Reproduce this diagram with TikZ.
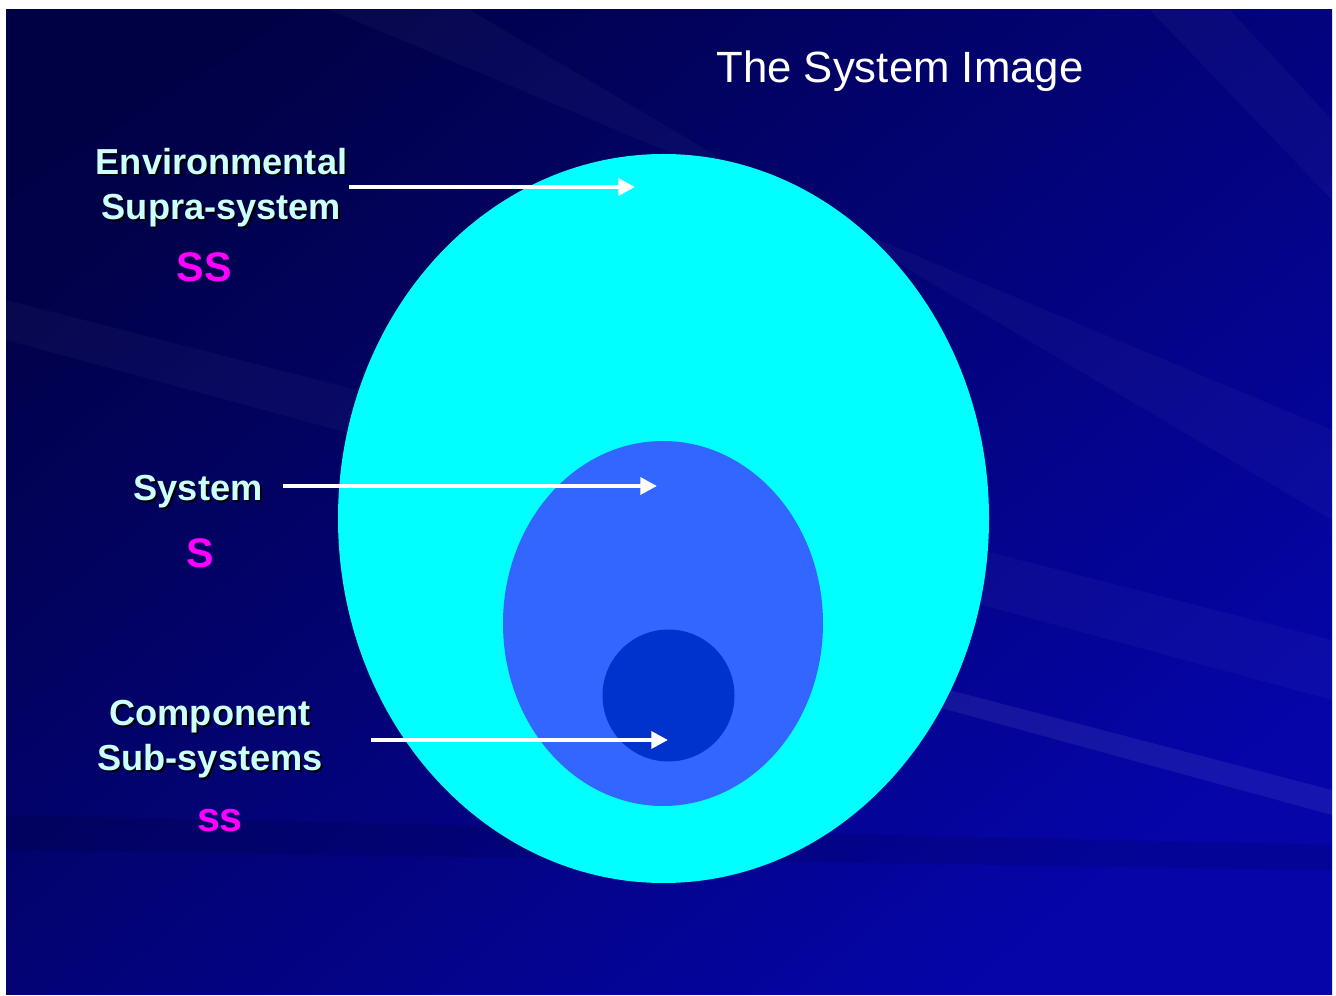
\documentclass[tikz,border=0pt]{standalone}
\usepackage{fontspec}
\setmainfont{Liberation Sans}
\usetikzlibrary{arrows.meta}
\definecolor{bgdark}{HTML}{01014A}
\definecolor{bglight}{HTML}{0505A8}
\definecolor{outer}{HTML}{00FFFF}
\definecolor{middle}{HTML}{3366FF}
\definecolor{inner}{HTML}{0033CC}
\definecolor{labeltxt}{HTML}{CCFFFF}
\definecolor{mag}{HTML}{FF00FF}
\tikzset{
  lab/.style={font=\bfseries\fontsize{20.6}{25.5}\selectfont, text=labeltxt, align=center, inner sep=0pt},
  labshadow/.style={font=\bfseries\fontsize{20.6}{25.5}\selectfont, text=black, align=center, inner sep=0pt},
  sym/.style={font=\bfseries\fontsize{23.5}{26}\selectfont, text=mag, inner sep=0pt},
  pointer/.style={draw=white, line width=2.4pt, -{Triangle[length=9.5pt,width=9.5pt]}},
  ray/.style={fill=white, fill opacity=0.03}
}
\begin{document}
\begin{tikzpicture}[x=0.02cm,y=-0.02cm]
\useasboundingbox (0,0) rectangle (1336,996);
\fill[white] (0,0) rectangle (1336,996);
\shade[top color=bgdark, bottom color=bglight, shading angle=40] (6,10) rectangle (1332,994);
% faint rays
\begin{scope}
\clip (6,10) rectangle (1332,994);
\fill[ray] (330,10) -- (470,10) -- (1332,520) -- (1332,430) -- cycle;
\fill[ray] (1150,10) -- (1230,10) -- (1332,120) -- (1332,200) -- cycle;
\fill[ray] (6,300) -- (6,340) -- (1332,700) -- (1332,640) -- cycle;
\fill[white, fill opacity=0.07] (930,685) -- (1332,790) -- (1332,815) -- (930,705) -- cycle;
\fill[black, fill opacity=0.10] (6,815) -- (1332,845) -- (1332,870) -- (6,850) -- cycle;
\fill[black, fill opacity=0.08] (6,10) -- (300,10) -- (6,200) -- cycle;
\end{scope}
% ellipses
\fill[outer] (663.5,518.5) ellipse [x radius=325.5, y radius=364.5];
\fill[middle] (663,623.5) ellipse [x radius=160, y radius=182.5];
\fill[inner] (668.5,695.5) circle [radius=66];
\coordinate (tss) at (635,187);
\coordinate (ts) at (657,486);
\coordinate (tcs) at (668,740);
% title
\node[font=\fontsize{24.9}{28}\selectfont, text=white, inner sep=0pt] (title) at (900,71) {The System Image};
% labels with shadow
\node[labshadow] at (223.5,190) {Environmental\\Supra-system};
\node[lab] (env) at (221.5,188) {Environmental\\Supra-system};
\node[labshadow] at (200,494) {System};
\node[lab] (sys) at (198,492) {System};
\node[labshadow] at (212,741) {Component\\Sub-systems};
\node[lab] (comp) at (210,739) {Component\\Sub-systems};
\node[sym] (SS) at (204,267) {SS};
\node[sym] (S) at (200,553) {S};
\node[sym] (ss) at (220,821) {ss};
% arrows
\draw[pointer] (349,187) coordinate (a1) (a1) -- (tss);
\draw[pointer] (283,486) coordinate (a2) (a2) -- (ts);
\draw[pointer] (371,740) coordinate (a3) (a3) -- (tcs);
\end{tikzpicture}
\end{document}
